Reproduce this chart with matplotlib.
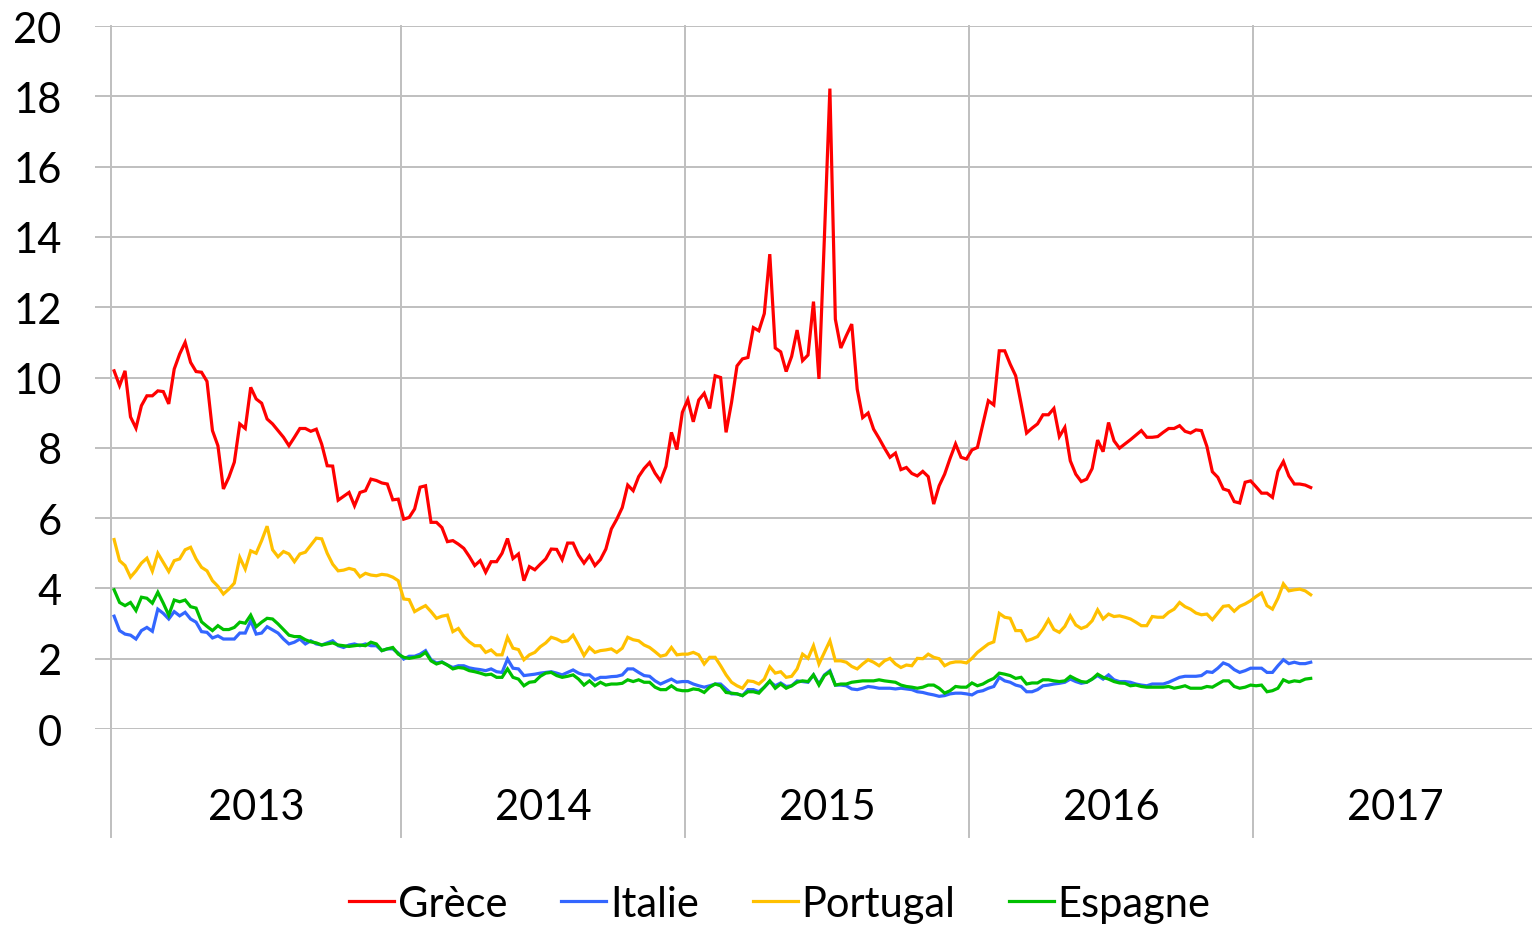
import numpy as np
import pandas as pd
import matplotlib
matplotlib.use("Agg")
import matplotlib.pyplot as plt

plt.rcParams['font.family'] = ['Lato', 'DejaVu Sans']

# weekly observations (Tuesdays), Jan 2013 -> Mar 2017
dates = pd.date_range('2013-01-01', periods=220, freq='7D')

grece = [10.19, 9.77, 10.19, 8.88, 8.56, 9.2, 9.48, 9.48, 9.62, 9.6,
         9.25, 10.24, 10.67, 11.0, 10.43, 10.17, 10.15, 9.89, 8.49, 8.06,
         6.83, 7.16, 7.59, 8.68, 8.55, 9.72, 9.39, 9.27, 8.82, 8.68,
         8.49, 8.3, 8.06, 8.3, 8.55, 8.55, 8.47, 8.53, 8.1, 7.49,
         7.48, 6.51, 6.62, 6.73, 6.35, 6.73, 6.78, 7.11, 7.07, 7.0,
         6.97, 6.52, 6.54,
         5.97, 6.02, 6.26, 6.88, 6.92, 5.88, 5.88, 5.73, 5.33, 5.36,
         5.26, 5.14, 4.91, 4.65, 4.79, 4.46, 4.76, 4.76, 5.0, 5.42,
         4.85, 4.98, 4.22, 4.62, 4.53, 4.69, 4.84, 5.12, 5.11, 4.82,
         5.29, 5.29, 4.95, 4.72, 4.93, 4.65, 4.82, 5.12, 5.69, 5.97,
         6.3, 6.94, 6.78, 7.18, 7.41, 7.58, 7.28, 7.06, 7.47, 8.44,
         7.95, 9.01,
         9.37, 8.74, 9.36, 9.55, 9.12, 10.05, 10.0, 8.44, 9.29, 10.33,
         10.53, 10.57, 11.42, 11.33, 11.82, 13.51, 10.84, 10.73, 10.17, 10.6,
         11.35, 10.48, 10.64, 12.16, 9.96, 14.0, 18.22, 11.66, 10.84, 11.19,
         11.52, 9.67, 8.86, 8.99, 8.53, 8.27, 7.99, 7.73, 7.85, 7.38,
         7.44, 7.27, 7.2, 7.33, 7.18, 6.4, 6.92, 7.25, 7.7, 8.11,
         7.73, 7.68,
         7.94, 8.01, 8.68, 9.34, 9.22, 10.76, 10.76, 10.38, 10.05, 9.25,
         8.42, 8.56, 8.68, 8.94, 8.94, 9.12, 8.32, 8.58, 7.63, 7.25,
         7.04, 7.11, 7.41, 8.22, 7.89, 8.72, 8.2, 7.99, 8.11, 8.23,
         8.36, 8.49, 8.3, 8.3, 8.32, 8.44, 8.55, 8.55, 8.63, 8.47,
         8.42, 8.51, 8.49, 8.04, 7.32, 7.16, 6.83, 6.78, 6.47, 6.43,
         7.02, 7.06, 6.89, 6.71, 6.71, 6.59, 7.33, 7.61, 7.2, 6.97,
         6.97, 6.94, 6.87]

italie = [3.21, 2.8, 2.7, 2.67, 2.56, 2.8, 2.89, 2.78, 3.41, 3.29,
          3.13, 3.34, 3.22, 3.32, 3.13, 3.04, 2.77, 2.75, 2.59, 2.65,
          2.56, 2.56, 2.56, 2.73, 2.73, 3.08, 2.7, 2.73, 2.91, 2.82,
          2.73, 2.56, 2.42, 2.47, 2.56, 2.42, 2.51, 2.42, 2.39, 2.45,
          2.51, 2.37, 2.32, 2.39, 2.42, 2.37, 2.42, 2.37, 2.37, 2.23,
          2.28, 2.28, 2.16,
          1.99, 2.07, 2.07, 2.13, 2.23, 1.97, 1.88, 1.91, 1.82, 1.75,
          1.8, 1.8, 1.74, 1.71, 1.69, 1.66, 1.71, 1.63, 1.61, 1.99,
          1.73, 1.71, 1.52, 1.54, 1.56, 1.59, 1.61, 1.63, 1.59, 1.54,
          1.61, 1.68, 1.59, 1.54, 1.54, 1.4, 1.47, 1.47, 1.49, 1.5,
          1.54, 1.71, 1.71, 1.61, 1.52, 1.5, 1.37, 1.28, 1.35, 1.42,
          1.33, 1.35,
          1.35, 1.28, 1.23, 1.19, 1.23, 1.28, 1.28, 1.14, 1.0, 1.0,
          0.95, 1.12, 1.12, 1.06, 1.19, 1.35, 1.23, 1.31, 1.21, 1.23,
          1.37, 1.35, 1.33, 1.54, 1.28, 1.54, 1.66, 1.25, 1.25, 1.23,
          1.14, 1.12, 1.16, 1.21, 1.19, 1.16, 1.16, 1.16, 1.14, 1.16,
          1.14, 1.12, 1.06, 1.04, 1.0, 0.97, 0.93, 0.95, 1.0, 1.02,
          1.02, 1.0,
          0.97, 1.06, 1.09, 1.16, 1.21, 1.47, 1.37, 1.33, 1.25, 1.21,
          1.06, 1.06, 1.12, 1.23, 1.25, 1.28, 1.3, 1.33, 1.42, 1.35,
          1.3, 1.33, 1.42, 1.52, 1.42, 1.54, 1.4, 1.35, 1.35, 1.33,
          1.28, 1.25, 1.23, 1.28, 1.28, 1.28, 1.33, 1.4, 1.47, 1.5,
          1.5, 1.5, 1.52, 1.63, 1.61, 1.73, 1.88, 1.82, 1.69, 1.61,
          1.66, 1.73, 1.73, 1.73, 1.61, 1.61, 1.8, 1.97, 1.86, 1.9,
          1.86, 1.86, 1.9]

portugal = [5.39, 4.79, 4.65, 4.32, 4.5, 4.72, 4.86, 4.49, 5.0, 4.74,
            4.48, 4.79, 4.84, 5.1, 5.17, 4.84, 4.6, 4.5, 4.22, 4.06,
            3.84, 3.98, 4.15, 4.88, 4.55, 5.07, 5.0, 5.36, 5.77, 5.1,
            4.9, 5.05, 4.98, 4.76, 4.98, 5.03, 5.23, 5.43, 5.41, 5.0,
            4.69, 4.5, 4.52, 4.57, 4.53, 4.33, 4.43, 4.38, 4.36, 4.4,
            4.38, 4.32, 4.22,
            3.7, 3.68, 3.34, 3.43, 3.51, 3.34, 3.15, 3.21, 3.24, 2.77,
            2.86, 2.63, 2.48, 2.37, 2.37, 2.18, 2.25, 2.11, 2.11, 2.61,
            2.3, 2.26, 1.97, 2.11, 2.18, 2.34, 2.45, 2.61, 2.56, 2.48,
            2.51, 2.67, 2.39, 2.09, 2.32, 2.18, 2.23, 2.25, 2.28, 2.18,
            2.3, 2.61, 2.54, 2.51, 2.39, 2.32, 2.2, 2.07, 2.11, 2.32,
            2.11, 2.13,
            2.13, 2.18, 2.11, 1.85, 2.04, 2.04, 1.8, 1.54, 1.33, 1.23,
            1.16, 1.37, 1.35, 1.28, 1.42, 1.77, 1.59, 1.63, 1.47, 1.5,
            1.71, 2.13, 2.01, 2.37, 1.85, 2.18, 2.51, 1.94, 1.94, 1.9,
            1.78, 1.71, 1.85, 1.97, 1.9, 1.8, 1.94, 2.01, 1.85, 1.75,
            1.82, 1.8, 2.01, 2.0, 2.13, 2.04, 2.0, 1.8, 1.88, 1.91,
            1.91, 1.88,
            2.01, 2.18, 2.3, 2.42, 2.48, 3.29, 3.18, 3.15, 2.8, 2.8,
            2.51, 2.56, 2.63, 2.84, 3.11, 2.83, 2.75, 2.92, 3.22, 2.96,
            2.86, 2.92, 3.08, 3.39, 3.13, 3.27, 3.2, 3.22, 3.18, 3.13,
            3.04, 2.94, 2.94, 3.2, 3.18, 3.18, 3.32, 3.41, 3.6, 3.48,
            3.41, 3.3, 3.25, 3.27, 3.11, 3.3, 3.49, 3.51, 3.35, 3.49,
            3.56, 3.65, 3.77, 3.87, 3.51, 3.41, 3.72, 4.13, 3.93, 3.96,
            3.98, 3.93, 3.82]

espagne = [3.96, 3.6, 3.51, 3.6, 3.37, 3.75, 3.72, 3.58, 3.89, 3.58,
           3.24, 3.67, 3.62, 3.67, 3.48, 3.44, 3.05, 2.92, 2.8, 2.94,
           2.83, 2.83, 2.89, 3.04, 3.01, 3.24, 2.91, 3.04, 3.15, 3.13,
           2.99, 2.83, 2.67, 2.63, 2.63, 2.54, 2.48, 2.45, 2.39, 2.42,
           2.45, 2.39, 2.37, 2.35, 2.37, 2.39, 2.37, 2.47, 2.42, 2.23,
           2.28, 2.32, 2.13,
           2.04, 2.01, 2.04, 2.07, 2.18, 1.94, 1.85, 1.9, 1.82, 1.71,
           1.75, 1.73, 1.66, 1.63, 1.59, 1.54, 1.56, 1.47, 1.47, 1.71,
           1.47, 1.42, 1.23, 1.33, 1.35, 1.5, 1.59, 1.61, 1.52, 1.47,
           1.5, 1.54, 1.42, 1.25, 1.37, 1.23, 1.33, 1.25, 1.28, 1.28,
           1.3, 1.4, 1.35, 1.4, 1.33, 1.33, 1.19, 1.12, 1.12, 1.23,
           1.12, 1.09,
           1.09, 1.14, 1.12, 1.04, 1.19, 1.28, 1.23, 1.04, 1.02, 1.0,
           0.95, 1.06, 1.06, 1.02, 1.19, 1.37, 1.16, 1.28, 1.16, 1.23,
           1.33, 1.37, 1.35, 1.54, 1.25, 1.52, 1.63, 1.25, 1.28, 1.28,
           1.33, 1.35, 1.37, 1.37, 1.37, 1.4, 1.37, 1.35, 1.33, 1.25,
           1.21, 1.19, 1.16, 1.19, 1.25, 1.25, 1.16, 1.02, 1.09, 1.21,
           1.19, 1.19,
           1.31, 1.23, 1.28, 1.37, 1.44, 1.59, 1.56, 1.52, 1.44, 1.47,
           1.28, 1.31, 1.31, 1.4, 1.4, 1.37, 1.35, 1.37, 1.5, 1.42,
           1.35, 1.33, 1.42, 1.56, 1.47, 1.42, 1.35, 1.31, 1.3, 1.23,
           1.25, 1.21, 1.19, 1.19, 1.19, 1.19, 1.21, 1.16, 1.19, 1.23,
           1.16, 1.16, 1.16, 1.21, 1.19, 1.28, 1.37, 1.37, 1.21, 1.16,
           1.19, 1.25, 1.23, 1.25, 1.06, 1.09, 1.16, 1.4, 1.33, 1.37,
           1.35, 1.42, 1.44]

series = [('Grèce', grece, '#FF0000'),
          ('Italie', italie, '#3366FF'),
          ('Portugal', portugal, '#FFC000'),
          ('Espagne', espagne, '#00C000')]

fig = plt.figure(figsize=(15.32, 9.29), dpi=100)
ax = fig.add_axes([0.062, 0.2142, 0.938, 0.7567])

x = np.arange(len(dates))
for name, vals, col in series:
    ax.plot(x, vals, color=col, lw=2.3, label=name, solid_joinstyle='miter')

# year groups on a category axis
years = dates.year
starts = [0] + [i for i in range(1, len(dates)) if years[i] != years[i - 1]]
bounds = [s - 0.5 for s in starts] + [starts[-1] + 52 - 0.5]
for b in bounds[:-1]:
    ax.axvline(b, ymin=-0.154, ymax=1, color='#BFBFBF', lw=1.4,
               clip_on=False, zorder=0)
for k in range(len(starts)):
    mid = (bounds[k] + bounds[k + 1]) / 2
    ax.text(mid, -2.22, str(years[starts[k]]), ha='center', va='center',
            fontsize=30)

ax.set_ylim(0, 20)
ax.set_xlim(-3.5, 259.5)
ax.set_yticks(range(0, 21, 2))
ax.set_xticks([])
ax.yaxis.grid(True, color='#BFBFBF', lw=1.4)
ax.set_axisbelow(True)
ax.tick_params(axis='y', length=0, pad=24, labelsize=30)
for s in ax.spines.values():
    s.set_visible(False)

fig.legend(loc='center', bbox_to_anchor=(780 / 1532, 1 - 905 / 929), ncol=4,
           frameon=False, fontsize=30, handlelength=1.08, handletextpad=0.08,
           columnspacing=1.3)

fig.savefig('out.png', dpi=100)
